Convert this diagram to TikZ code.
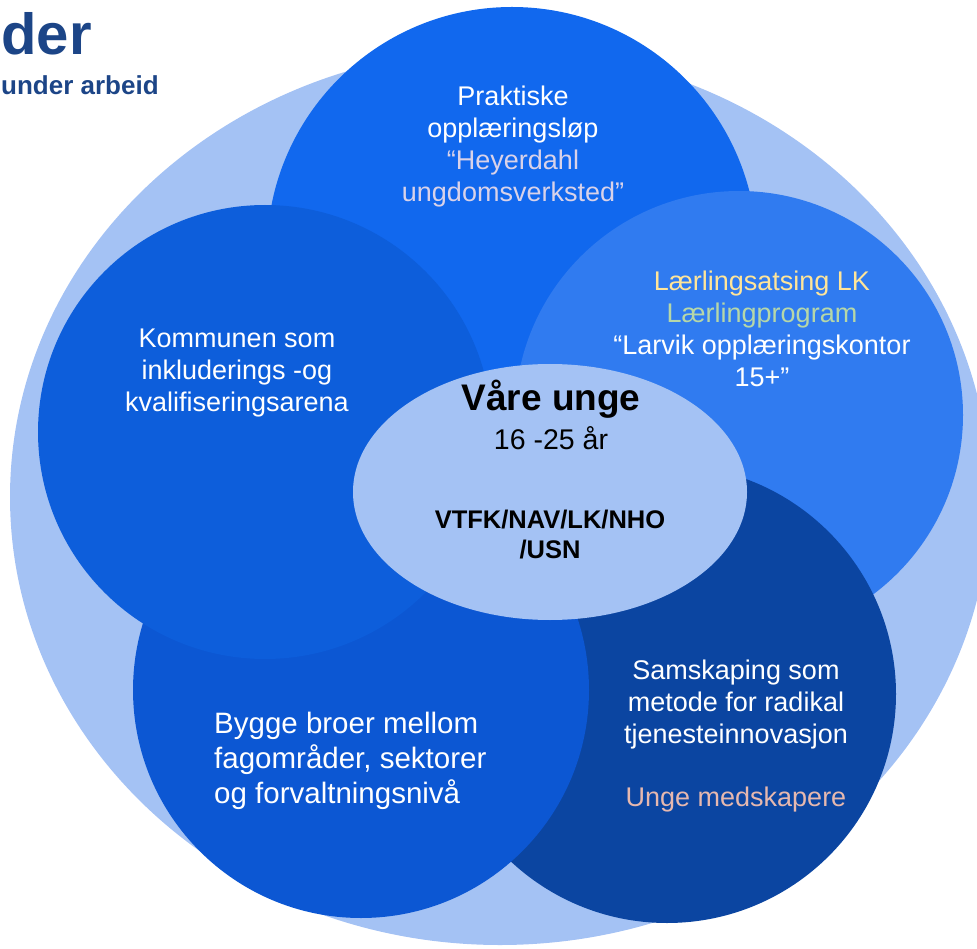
\documentclass[tikz,border=0pt]{standalone}
\usepackage{fontspec}
\setmainfont{Liberation Sans}
\usetikzlibrary{shapes.geometric}

\definecolor{paleblue}{HTML}{A4C2F4}
\definecolor{topblue}{HTML}{1168EE}
\definecolor{leftblue}{HTML}{0D5EDB}
\definecolor{rightblue}{HTML}{307BF0}
\definecolor{lowblue}{HTML}{0C57D3}
\definecolor{darkblue}{HTML}{0B45A1}
\definecolor{titleblue}{HTML}{1C4587}
\definecolor{lilac}{HTML}{D9D2E9}
\definecolor{paleyellow}{HTML}{FFE599}
\definecolor{palegreen}{HTML}{B6D7A8}
\definecolor{palered}{HTML}{E6B8AF}

\begin{document}
\begin{tikzpicture}[x=1pt, y=-1pt, font=\fontsize{27}{32}\selectfont,
  disk/.style={circle, inner sep=0pt, minimum size=#1},
  txt/.style={text=white, align=center, inner sep=0pt}]

\useasboundingbox (0,0) rectangle (977,949);
\clip (0,0) rectangle (977,949);

\node[ellipse, fill=paleblue, inner sep=0pt, minimum width=980pt, minimum height=896pt] (U) at (500,497) {};

\node[disk=490pt, fill=topblue] (PO) at (512,252) {};
\node[disk=448pt, fill=rightblue] (LK) at (739,415) {};
\node[disk=458pt, fill=darkblue] (SA) at (667,694) {};
\node[disk=456pt, fill=lowblue] (BB) at (361,690) {};
\node[disk=454pt, fill=leftblue] (KO) at (265,432) {};
\node[ellipse, fill=paleblue, inner sep=0pt, minimum width=394pt, minimum height=256pt] (VU) at (550,492) {};

\node[txt] (POt) at (513,147) {Praktiske\\opplæringsløp\\\textcolor{lilac}{“Heyerdahl}\\\textcolor{lilac}{ungdomsverksted”}};
\node[txt] (KOt) at (237,373) {Kommunen som\\inkluderings -og\\kvalifiseringsarena};
\node[txt] (LKt) at (762,329) {\textcolor{paleyellow}{Lærlingsatsing LK}\\\textcolor{palegreen}{Lærlingprogram}\\“Larvik opplæringskontor\\15+”};
\node[txt, align=left, anchor=west, font=\fontsize{29.5}{35}\selectfont] (BBt) at (214,761) {Bygge broer mellom\\fagområder, sektorer\\og forvaltningsnivå};
\node[txt] (SAt) at (736,736) {Samskaping som\\metode for radikal\\tjenesteinnovasjon\\[31pt]\textcolor{palered}{Unge medskapere}};

\node[anchor=base, inner sep=0pt, font=\fontsize{37}{40}\selectfont\bfseries] (VUt) at (551,410) {Våre unge};
\node[anchor=base, inner sep=0pt, font=\fontsize{28.5}{32}\selectfont] (AGE) at (551,449) {16 -25 år};
\node[align=center, inner sep=0pt, font=\fontsize{25.5}{30}\selectfont\bfseries] (ORG) at (550,535) {VTFK/NAV/LK/NHO\\/USN};

\node[anchor=base east, inner sep=0pt, text=titleblue, font=\fontsize{58}{60}\selectfont\bfseries] (T1) at (92,55) {der};
\node[anchor=base west, inner sep=0pt, text=titleblue, font=\fontsize{26}{30}\selectfont\bfseries] (T2) at (1,95) {under arbeid};

\end{tikzpicture}
\end{document}
